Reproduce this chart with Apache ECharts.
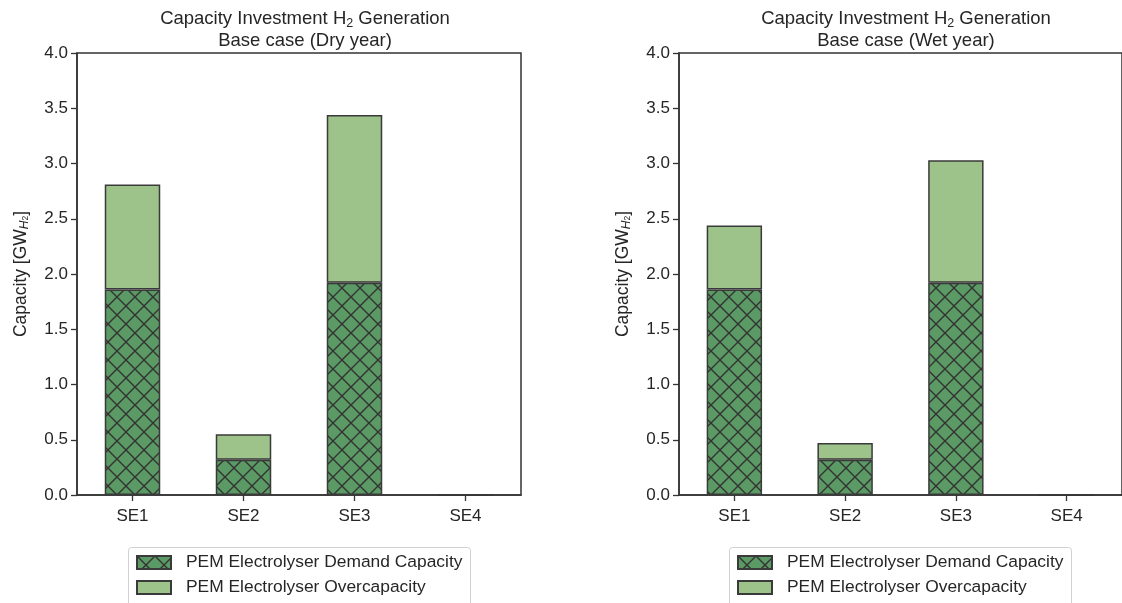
<!DOCTYPE html>
<html><head><meta charset="utf-8">
<script src="https://cdn.jsdelivr.net/npm/echarts@6/dist/echarts.min.js"></script>
<style>html,body{margin:0;padding:0;background:#fff}#c{width:1122px;height:603px}</style>
</head><body><div id="c"></div>
<script>
const categories = ['SE1','SE2','SE3','SE4'];
const dryDemand = [1.86, 0.32, 1.92, 0];
const dryOver = [0.95, 0.23, 1.52, 0];
const wetDemand = [1.86, 0.32, 1.92, 0];
const wetOver = [0.58, 0.15, 1.11, 0];
const yTicks = [0, 0.5, 1.0, 1.5, 2.0, 2.5, 3.0, 3.5, 4.0];
const seriesNames = ['PEM Electrolyser Demand Capacity', 'PEM Electrolyser Overcapacity'];
const titles = ['Base case (Dry year)', 'Base case (Wet year)'];

const cv = document.createElement('canvas');
cv.width = 18; cv.height = 18;
const cx = cv.getContext('2d');
cx.fillStyle = '#5b9a65'; cx.fillRect(0,0,18,18);
cx.strokeStyle = '#333'; cx.lineWidth = 1.4;
cx.beginPath(); cx.moveTo(0,0); cx.lineTo(18,18); cx.moveTo(18,0); cx.lineTo(0,18); cx.stroke();
const hatch = {image: cv, repeat: 'repeat'};
const lightGreen = '#9dc28a';
const font = 'Liberation Sans, Arial, sans-serif';
const tc = '#262626';

const chart = echarts.init(document.getElementById('c'));
const grids = [{left:77, right:601, top:53, bottom:108}, {left:679, right:-3, top:53, bottom:108}];
const centers = [299, 900];
const axisLine = {show:true, lineStyle:{color:'#333', width:1.5}};
const legends = [];
const graphics = [];
centers.forEach(c=>{
  seriesNames.forEach((n,j)=>{
    legends.push({data:[n], orient:'vertical', left:c-163, top:554+j*25, padding:0,
      itemWidth:34, itemHeight:13, icon:'rect',
      textStyle:{fontSize:17.4, color:tc, fontFamily:font, padding:[0,0,0,10]}});
  });
  graphics.push({type:'rect', left:c-171, top:547, z:-1, shape:{width:342, height:70, r:3},
    style:{fill:'#fff', stroke:'#d0d0d0', lineWidth:1}});
});
const opt = {
  animation:false,
  textStyle:{fontFamily:font},
  graphic: graphics,
  title: titles.map((t,i)=>({
    text: '{n|Capacity Investment H}{s|2}{n| Generation}\n{n|' + t + '}',
    left: centers[i]+1, top: 3, textAlign:'center',
    textStyle:{fontWeight:'normal', fontSize:18.5, rich:{n:{fontSize:18.5, fontWeight:'normal', color:tc, fontFamily:font, lineHeight:22}, s:{fontSize:12.5, fontWeight:'normal', color:tc, fontFamily:font, verticalAlign:'bottom', padding:[9,0,0,0], lineHeight:22}}}
  })),
  grid: grids.map(g=>Object.assign({show:true, borderColor:'#333', borderWidth:1.5, backgroundColor:'transparent'}, g)),
  xAxis: [0,1].map(i=>({type:'category', gridIndex:i, data:categories, boundaryGap:true,
    axisLine, axisTick:{show:true, alignWithLabel:true, length:6, lineStyle:{color:'#333', width:1.3}},
    axisLabel:{fontSize:17, color:tc, margin:13, fontFamily:font}})),
  yAxis: [0,1].map(i=>({type:'value', gridIndex:i, min:0, max:4, interval:0.5,
    axisLine, splitLine:{show:false},
    axisTick:{show:true, length:6, lineStyle:{color:'#333', width:1.3}},
    axisLabel:{fontSize:17, color:tc, margin:9, fontFamily:font, formatter:v=>yTicks.includes(v)? v.toFixed(1):''},
    name:'{n|Capacity [GW}{s|H}{t|2}{n|]}', nameLocation:'middle', nameGap:47, nameRotate:90,
    nameTextStyle:{rich:{n:{fontSize:17.5, color:tc, fontFamily:font}, s:{fontSize:12, fontStyle:'italic', color:tc, fontFamily:font, padding:[0,0,-7,0]}, t:{fontSize:8.5, color:tc, fontFamily:font, padding:[0,0,-10,0]}}}
  })),
  legend: legends,
  series: []
};
[[dryDemand, dryOver],[wetDemand, wetOver]].forEach((d,i)=>{
  opt.series.push({name:seriesNames[0], type:'bar', xAxisIndex:i, yAxisIndex:i, stack:'s'+i, barWidth:'50%', data:d[0],
    itemStyle:{color:hatch, borderColor:'#3a3a3a', borderWidth:1.5}});
  opt.series.push({name:seriesNames[1], type:'bar', xAxisIndex:i, yAxisIndex:i, stack:'s'+i, barWidth:'50%', data:d[1],
    itemStyle:{color:lightGreen, borderColor:'#3a3a3a', borderWidth:1.5}});
});
chart.setOption(opt);
</script></body></html>
